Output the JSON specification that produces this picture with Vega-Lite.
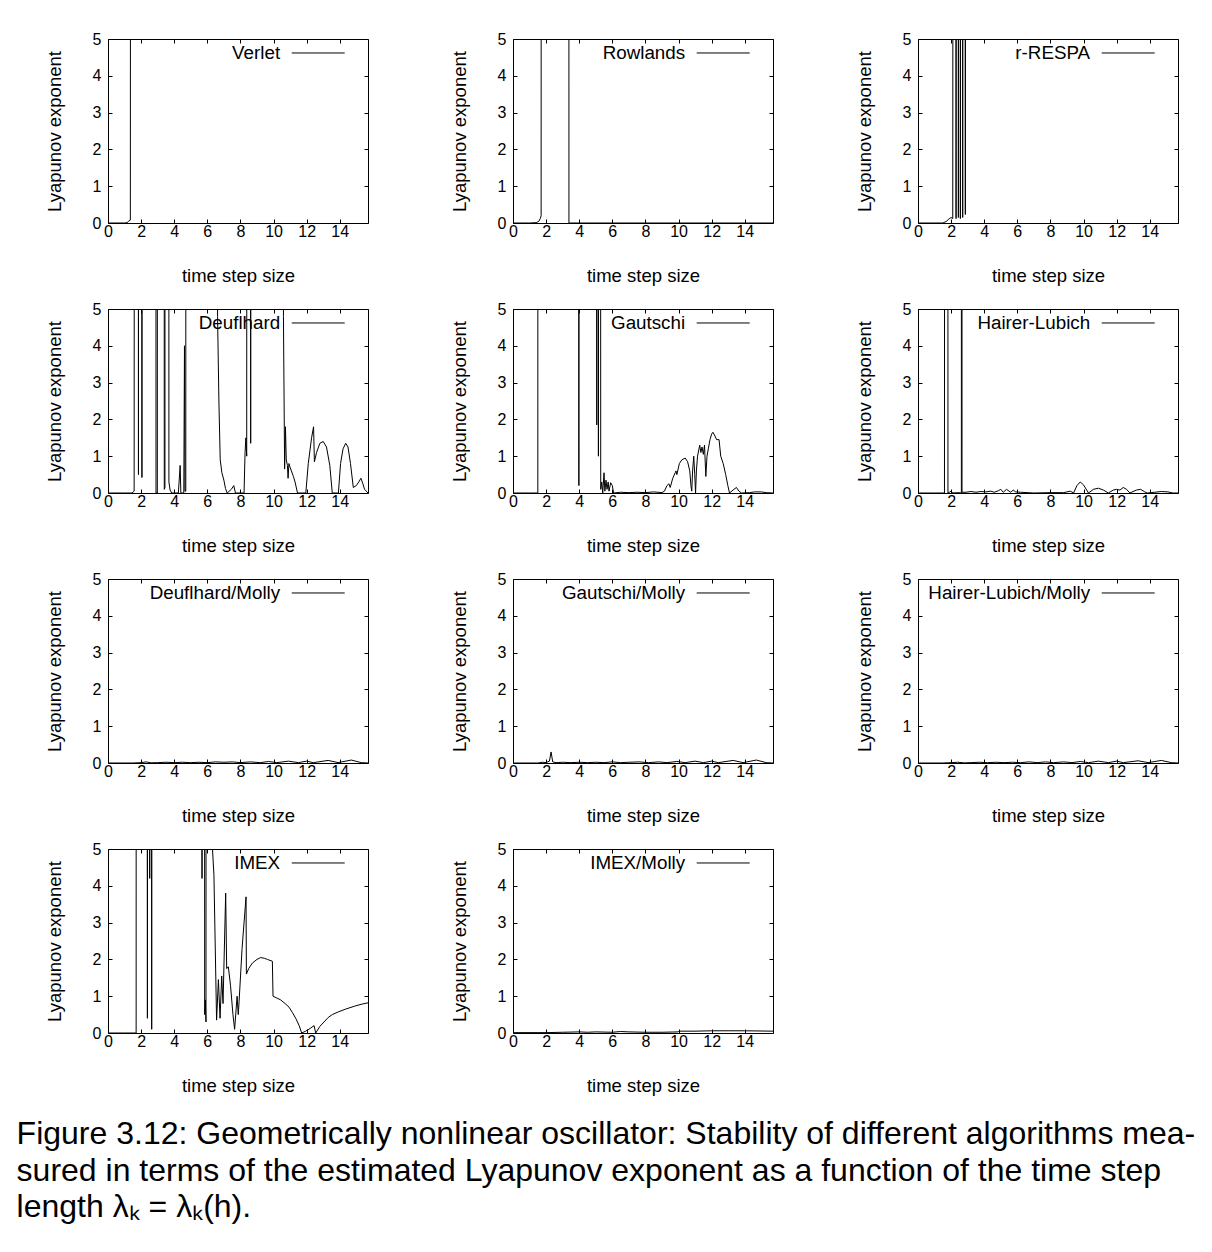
{
"$schema":"https://vega.github.io/schema/vega-lite/v6.json",
"padding":{"left":16,"top":30,"right":5,"bottom":10},
"background":"white",
"title":{"text":["Figure 3.12: Geometrically nonlinear oscillator: Stability of different algorithms mea-","sured in terms of the estimated Lyapunov exponent as a function of the time step","length λₖ = λₖ(h)."],"orient":"bottom","anchor":"start","frame":"bounds","fontSize":32,"font":"Liberation Sans","fontWeight":"normal","color":"black","lineHeight":36.5,"offset":24,"dx":-28},
"data":{"values":[
{"alg":"Verlet","h":0,"lam":0},{"alg":"Verlet","h":0.5,"lam":0},{"alg":"Verlet","h":1.0,"lam":0},{"alg":"Verlet","h":1.15,"lam":0.01},{"alg":"Verlet","h":1.25,"lam":0.05},{"alg":"Verlet","h":1.35,"lam":0.08},{"alg":"Verlet","h":1.4,"lam":60},{"alg":"Verlet","h":15.708,"lam":60},
{"alg":"Rowlands","h":0,"lam":0},{"alg":"Rowlands","h":1.0,"lam":0},{"alg":"Rowlands","h":1.4,"lam":0.01},{"alg":"Rowlands","h":1.55,"lam":0.04},{"alg":"Rowlands","h":1.65,"lam":0.12},{"alg":"Rowlands","h":1.7,"lam":0.2},{"alg":"Rowlands","h":1.72,"lam":60},{"alg":"Rowlands","h":3.36,"lam":60},{"alg":"Rowlands","h":3.38,"lam":0},{"alg":"Rowlands","h":15.708,"lam":0},
{"alg":"r-RESPA","h":0,"lam":0},{"alg":"r-RESPA","h":1.0,"lam":0},{"alg":"r-RESPA","h":1.5,"lam":0},{"alg":"r-RESPA","h":1.7,"lam":0.04},{"alg":"r-RESPA","h":1.85,"lam":0.1},{"alg":"r-RESPA","h":2.0,"lam":0.15},{"alg":"r-RESPA","h":2.1,"lam":0.12},{"alg":"r-RESPA","h":2.17,"lam":60},{"alg":"r-RESPA","h":2.28,"lam":60},{"alg":"r-RESPA","h":2.3,"lam":0.12},{"alg":"r-RESPA","h":2.32,"lam":60},{"alg":"r-RESPA","h":2.42,"lam":60},{"alg":"r-RESPA","h":2.44,"lam":0.15},{"alg":"r-RESPA","h":2.46,"lam":60},{"alg":"r-RESPA","h":2.54,"lam":60},{"alg":"r-RESPA","h":2.56,"lam":0.12},{"alg":"r-RESPA","h":2.58,"lam":60},{"alg":"r-RESPA","h":2.68,"lam":60},{"alg":"r-RESPA","h":2.7,"lam":0.15},{"alg":"r-RESPA","h":2.72,"lam":60},{"alg":"r-RESPA","h":2.84,"lam":60},{"alg":"r-RESPA","h":2.86,"lam":0.23},{"alg":"r-RESPA","h":2.88,"lam":60},{"alg":"r-RESPA","h":15.708,"lam":60},
{"alg":"Deuflhard","h":0,"lam":0},{"alg":"Deuflhard","h":1.0,"lam":0},{"alg":"Deuflhard","h":1.45,"lam":0},{"alg":"Deuflhard","h":1.58,"lam":0.05},{"alg":"Deuflhard","h":1.62,"lam":60},{"alg":"Deuflhard","h":1.82,"lam":60},{"alg":"Deuflhard","h":1.84,"lam":0.5},{"alg":"Deuflhard","h":1.86,"lam":60},{"alg":"Deuflhard","h":2.03,"lam":60},{"alg":"Deuflhard","h":2.05,"lam":0.42},{"alg":"Deuflhard","h":2.07,"lam":60},{"alg":"Deuflhard","h":2.88,"lam":60},{"alg":"Deuflhard","h":2.9,"lam":0},{"alg":"Deuflhard","h":2.98,"lam":0},{"alg":"Deuflhard","h":3.0,"lam":60},{"alg":"Deuflhard","h":3.38,"lam":60},{"alg":"Deuflhard","h":3.4,"lam":0.1},{"alg":"Deuflhard","h":3.44,"lam":0.15},{"alg":"Deuflhard","h":3.46,"lam":60},{"alg":"Deuflhard","h":3.66,"lam":60},{"alg":"Deuflhard","h":3.68,"lam":0.3},{"alg":"Deuflhard","h":3.75,"lam":0.08},{"alg":"Deuflhard","h":3.85,"lam":0},{"alg":"Deuflhard","h":4.25,"lam":0},{"alg":"Deuflhard","h":4.36,"lam":0.75},{"alg":"Deuflhard","h":4.4,"lam":0},{"alg":"Deuflhard","h":4.58,"lam":0},{"alg":"Deuflhard","h":4.62,"lam":4.0},{"alg":"Deuflhard","h":4.65,"lam":0.05},{"alg":"Deuflhard","h":4.7,"lam":0.05},{"alg":"Deuflhard","h":4.72,"lam":60},{"alg":"Deuflhard","h":6.55,"lam":60},{"alg":"Deuflhard","h":6.62,"lam":4.8},{"alg":"Deuflhard","h":6.7,"lam":2.5},{"alg":"Deuflhard","h":6.78,"lam":0.9},{"alg":"Deuflhard","h":6.88,"lam":0.55},{"alg":"Deuflhard","h":7.0,"lam":0.35},{"alg":"Deuflhard","h":7.1,"lam":0.12},{"alg":"Deuflhard","h":7.2,"lam":0},{"alg":"Deuflhard","h":7.45,"lam":0.1},{"alg":"Deuflhard","h":7.6,"lam":0.2},{"alg":"Deuflhard","h":7.7,"lam":0},{"alg":"Deuflhard","h":8.22,"lam":0},{"alg":"Deuflhard","h":8.28,"lam":1.1},{"alg":"Deuflhard","h":8.33,"lam":1.5},{"alg":"Deuflhard","h":8.38,"lam":1.0},{"alg":"Deuflhard","h":8.42,"lam":60},{"alg":"Deuflhard","h":8.6,"lam":60},{"alg":"Deuflhard","h":8.62,"lam":1.35},{"alg":"Deuflhard","h":8.65,"lam":60},{"alg":"Deuflhard","h":10.55,"lam":60},{"alg":"Deuflhard","h":10.6,"lam":4.8},{"alg":"Deuflhard","h":10.67,"lam":0.65},{"alg":"Deuflhard","h":10.72,"lam":1.8},{"alg":"Deuflhard","h":10.77,"lam":0.9},{"alg":"Deuflhard","h":10.84,"lam":0.75},{"alg":"Deuflhard","h":10.88,"lam":0.4},{"alg":"Deuflhard","h":10.93,"lam":0.8},{"alg":"Deuflhard","h":11.0,"lam":0.7},{"alg":"Deuflhard","h":11.08,"lam":0.6},{"alg":"Deuflhard","h":11.2,"lam":0.45},{"alg":"Deuflhard","h":11.3,"lam":0.3},{"alg":"Deuflhard","h":11.45,"lam":0},{"alg":"Deuflhard","h":11.95,"lam":0},{"alg":"Deuflhard","h":12.1,"lam":0.8},{"alg":"Deuflhard","h":12.3,"lam":1.5},{"alg":"Deuflhard","h":12.42,"lam":1.8},{"alg":"Deuflhard","h":12.47,"lam":0.85},{"alg":"Deuflhard","h":12.6,"lam":1.1},{"alg":"Deuflhard","h":12.8,"lam":1.35},{"alg":"Deuflhard","h":13.0,"lam":1.4},{"alg":"Deuflhard","h":13.2,"lam":1.25},{"alg":"Deuflhard","h":13.4,"lam":0.75},{"alg":"Deuflhard","h":13.55,"lam":0},{"alg":"Deuflhard","h":13.92,"lam":0},{"alg":"Deuflhard","h":14.05,"lam":0.8},{"alg":"Deuflhard","h":14.2,"lam":1.2},{"alg":"Deuflhard","h":14.36,"lam":1.35},{"alg":"Deuflhard","h":14.5,"lam":1.25},{"alg":"Deuflhard","h":14.65,"lam":0.8},{"alg":"Deuflhard","h":14.82,"lam":0.15},{"alg":"Deuflhard","h":15.0,"lam":0.2},{"alg":"Deuflhard","h":15.15,"lam":0.3},{"alg":"Deuflhard","h":15.28,"lam":0.4},{"alg":"Deuflhard","h":15.4,"lam":0.25},{"alg":"Deuflhard","h":15.5,"lam":0.1},{"alg":"Deuflhard","h":15.708,"lam":0},
{"alg":"Gautschi","h":0,"lam":0},{"alg":"Gautschi","h":1.0,"lam":0},{"alg":"Gautschi","h":1.5,"lam":0},{"alg":"Gautschi","h":1.52,"lam":60},{"alg":"Gautschi","h":3.96,"lam":60},{"alg":"Gautschi","h":3.98,"lam":0.2},{"alg":"Gautschi","h":4.0,"lam":60},{"alg":"Gautschi","h":5.04,"lam":60},{"alg":"Gautschi","h":5.06,"lam":1.85},{"alg":"Gautschi","h":5.08,"lam":60},{"alg":"Gautschi","h":5.14,"lam":60},{"alg":"Gautschi","h":5.16,"lam":1.0},{"alg":"Gautschi","h":5.18,"lam":60},{"alg":"Gautschi","h":5.26,"lam":60},{"alg":"Gautschi","h":5.3,"lam":0.1},{"alg":"Gautschi","h":5.36,"lam":0.3},{"alg":"Gautschi","h":5.42,"lam":0},{"alg":"Gautschi","h":5.5,"lam":0.55},{"alg":"Gautschi","h":5.55,"lam":0.05},{"alg":"Gautschi","h":5.62,"lam":0.35},{"alg":"Gautschi","h":5.68,"lam":0.1},{"alg":"Gautschi","h":5.75,"lam":0.3},{"alg":"Gautschi","h":5.8,"lam":0.05},{"alg":"Gautschi","h":5.9,"lam":0.28},{"alg":"Gautschi","h":6.0,"lam":0.2},{"alg":"Gautschi","h":6.08,"lam":0},{"alg":"Gautschi","h":6.5,"lam":0.02},{"alg":"Gautschi","h":7.0,"lam":0.01},{"alg":"Gautschi","h":7.5,"lam":0.02},{"alg":"Gautschi","h":8.0,"lam":0.01},{"alg":"Gautschi","h":8.5,"lam":0.03},{"alg":"Gautschi","h":9.0,"lam":0.01},{"alg":"Gautschi","h":9.15,"lam":0.05},{"alg":"Gautschi","h":9.3,"lam":0.2},{"alg":"Gautschi","h":9.42,"lam":0.25},{"alg":"Gautschi","h":9.5,"lam":0.15},{"alg":"Gautschi","h":9.65,"lam":0.4},{"alg":"Gautschi","h":9.8,"lam":0.55},{"alg":"Gautschi","h":9.85,"lam":0.6},{"alg":"Gautschi","h":9.9,"lam":0.5},{"alg":"Gautschi","h":10.05,"lam":0.8},{"alg":"Gautschi","h":10.2,"lam":0.9},{"alg":"Gautschi","h":10.4,"lam":0.95},{"alg":"Gautschi","h":10.55,"lam":0.85},{"alg":"Gautschi","h":10.68,"lam":0.6},{"alg":"Gautschi","h":10.75,"lam":0.2},{"alg":"Gautschi","h":10.8,"lam":0.05},{"alg":"Gautschi","h":10.85,"lam":0.6},{"alg":"Gautschi","h":10.92,"lam":1.0},{"alg":"Gautschi","h":10.98,"lam":0.5},{"alg":"Gautschi","h":11.03,"lam":0},{"alg":"Gautschi","h":11.08,"lam":0.6},{"alg":"Gautschi","h":11.15,"lam":1.0},{"alg":"Gautschi","h":11.28,"lam":1.3},{"alg":"Gautschi","h":11.35,"lam":1.1},{"alg":"Gautschi","h":11.42,"lam":1.25},{"alg":"Gautschi","h":11.5,"lam":1.05},{"alg":"Gautschi","h":11.57,"lam":1.3},{"alg":"Gautschi","h":11.65,"lam":0.45},{"alg":"Gautschi","h":11.72,"lam":1.0},{"alg":"Gautschi","h":11.8,"lam":1.2},{"alg":"Gautschi","h":11.9,"lam":1.45},{"alg":"Gautschi","h":12.0,"lam":1.6},{"alg":"Gautschi","h":12.08,"lam":1.65},{"alg":"Gautschi","h":12.2,"lam":1.55},{"alg":"Gautschi","h":12.3,"lam":1.45},{"alg":"Gautschi","h":12.45,"lam":1.45},{"alg":"Gautschi","h":12.55,"lam":1.0},{"alg":"Gautschi","h":12.7,"lam":0.8},{"alg":"Gautschi","h":12.85,"lam":0.5},{"alg":"Gautschi","h":12.98,"lam":0.2},{"alg":"Gautschi","h":13.08,"lam":0},{"alg":"Gautschi","h":13.35,"lam":0.1},{"alg":"Gautschi","h":13.5,"lam":0.15},{"alg":"Gautschi","h":13.65,"lam":0.05},{"alg":"Gautschi","h":13.8,"lam":0},{"alg":"Gautschi","h":14.3,"lam":0.01},{"alg":"Gautschi","h":14.6,"lam":0.03},{"alg":"Gautschi","h":15.0,"lam":0.03},{"alg":"Gautschi","h":15.3,"lam":0.01},{"alg":"Gautschi","h":15.708,"lam":0},
{"alg":"Hairer-Lubich","h":0,"lam":0},{"alg":"Hairer-Lubich","h":1.0,"lam":0},{"alg":"Hairer-Lubich","h":1.6,"lam":0},{"alg":"Hairer-Lubich","h":1.63,"lam":60},{"alg":"Hairer-Lubich","h":1.79,"lam":60},{"alg":"Hairer-Lubich","h":1.81,"lam":0},{"alg":"Hairer-Lubich","h":1.9,"lam":0.02},{"alg":"Hairer-Lubich","h":2.0,"lam":0.05},{"alg":"Hairer-Lubich","h":2.1,"lam":0},{"alg":"Hairer-Lubich","h":2.4,"lam":0.01},{"alg":"Hairer-Lubich","h":2.62,"lam":0},{"alg":"Hairer-Lubich","h":2.64,"lam":60},{"alg":"Hairer-Lubich","h":2.66,"lam":0.02},{"alg":"Hairer-Lubich","h":2.9,"lam":0.02},{"alg":"Hairer-Lubich","h":3.2,"lam":0.04},{"alg":"Hairer-Lubich","h":3.5,"lam":0.02},{"alg":"Hairer-Lubich","h":3.8,"lam":0.04},{"alg":"Hairer-Lubich","h":4.1,"lam":0.03},{"alg":"Hairer-Lubich","h":4.4,"lam":0.05},{"alg":"Hairer-Lubich","h":4.6,"lam":0.02},{"alg":"Hairer-Lubich","h":4.85,"lam":0.06},{"alg":"Hairer-Lubich","h":5.0,"lam":0.1},{"alg":"Hairer-Lubich","h":5.15,"lam":0.02},{"alg":"Hairer-Lubich","h":5.35,"lam":0.1},{"alg":"Hairer-Lubich","h":5.5,"lam":0.05},{"alg":"Hairer-Lubich","h":5.6,"lam":0.02},{"alg":"Hairer-Lubich","h":5.75,"lam":0.08},{"alg":"Hairer-Lubich","h":5.9,"lam":0.03},{"alg":"Hairer-Lubich","h":6.2,"lam":0.02},{"alg":"Hairer-Lubich","h":7.0,"lam":0},{"alg":"Hairer-Lubich","h":8.0,"lam":0.01},{"alg":"Hairer-Lubich","h":8.8,"lam":0.01},{"alg":"Hairer-Lubich","h":9.2,"lam":0.05},{"alg":"Hairer-Lubich","h":9.4,"lam":0},{"alg":"Hairer-Lubich","h":9.6,"lam":0.2},{"alg":"Hairer-Lubich","h":9.8,"lam":0.3},{"alg":"Hairer-Lubich","h":10.0,"lam":0.22},{"alg":"Hairer-Lubich","h":10.3,"lam":0},{"alg":"Hairer-Lubich","h":10.6,"lam":0.1},{"alg":"Hairer-Lubich","h":10.9,"lam":0.13},{"alg":"Hairer-Lubich","h":11.2,"lam":0.08},{"alg":"Hairer-Lubich","h":11.5,"lam":0},{"alg":"Hairer-Lubich","h":11.8,"lam":0.08},{"alg":"Hairer-Lubich","h":12.0,"lam":0.1},{"alg":"Hairer-Lubich","h":12.2,"lam":0.08},{"alg":"Hairer-Lubich","h":12.4,"lam":0.15},{"alg":"Hairer-Lubich","h":12.6,"lam":0.1},{"alg":"Hairer-Lubich","h":12.8,"lam":0},{"alg":"Hairer-Lubich","h":13.2,"lam":0.08},{"alg":"Hairer-Lubich","h":13.45,"lam":0.1},{"alg":"Hairer-Lubich","h":13.7,"lam":0.03},{"alg":"Hairer-Lubich","h":13.85,"lam":0},{"alg":"Hairer-Lubich","h":14.3,"lam":0.02},{"alg":"Hairer-Lubich","h":14.7,"lam":0.04},{"alg":"Hairer-Lubich","h":15.1,"lam":0.03},{"alg":"Hairer-Lubich","h":15.4,"lam":0},{"alg":"Hairer-Lubich","h":15.708,"lam":0},
{"alg":"Deuflhard/Molly","h":0,"lam":0},{"alg":"Deuflhard/Molly","h":1.5,"lam":0},{"alg":"Deuflhard/Molly","h":2.0,"lam":0.01},{"alg":"Deuflhard/Molly","h":2.3,"lam":0.03},{"alg":"Deuflhard/Molly","h":2.6,"lam":0.005},{"alg":"Deuflhard/Molly","h":3.0,"lam":0.01},{"alg":"Deuflhard/Molly","h":3.5,"lam":0.02},{"alg":"Deuflhard/Molly","h":4.0,"lam":0.01},{"alg":"Deuflhard/Molly","h":4.5,"lam":0.02},{"alg":"Deuflhard/Molly","h":5.0,"lam":0.01},{"alg":"Deuflhard/Molly","h":5.5,"lam":0.02},{"alg":"Deuflhard/Molly","h":6.0,"lam":0.01},{"alg":"Deuflhard/Molly","h":6.5,"lam":0.03},{"alg":"Deuflhard/Molly","h":7.0,"lam":0.02},{"alg":"Deuflhard/Molly","h":7.5,"lam":0.03},{"alg":"Deuflhard/Molly","h":8.0,"lam":0.01},{"alg":"Deuflhard/Molly","h":8.6,"lam":0.03},{"alg":"Deuflhard/Molly","h":9.2,"lam":0.01},{"alg":"Deuflhard/Molly","h":9.7,"lam":0.04},{"alg":"Deuflhard/Molly","h":10.2,"lam":0.01},{"alg":"Deuflhard/Molly","h":10.9,"lam":0.05},{"alg":"Deuflhard/Molly","h":11.5,"lam":0.01},{"alg":"Deuflhard/Molly","h":12.0,"lam":0.05},{"alg":"Deuflhard/Molly","h":12.4,"lam":0.01},{"alg":"Deuflhard/Molly","h":13.3,"lam":0.07},{"alg":"Deuflhard/Molly","h":13.9,"lam":0.01},{"alg":"Deuflhard/Molly","h":14.7,"lam":0.08},{"alg":"Deuflhard/Molly","h":15.3,"lam":0.01},{"alg":"Deuflhard/Molly","h":15.708,"lam":0},
{"alg":"Gautschi/Molly","h":0,"lam":0},{"alg":"Gautschi/Molly","h":1.5,"lam":0},{"alg":"Gautschi/Molly","h":1.8,"lam":0.02},{"alg":"Gautschi/Molly","h":2.0,"lam":0.01},{"alg":"Gautschi/Molly","h":2.2,"lam":0.05},{"alg":"Gautschi/Molly","h":2.3,"lam":0.3},{"alg":"Gautschi/Molly","h":2.4,"lam":0.03},{"alg":"Gautschi/Molly","h":2.6,"lam":0.01},{"alg":"Gautschi/Molly","h":3.0,"lam":0.02},{"alg":"Gautschi/Molly","h":3.5,"lam":0.01},{"alg":"Gautschi/Molly","h":4.0,"lam":0.02},{"alg":"Gautschi/Molly","h":4.5,"lam":0.01},{"alg":"Gautschi/Molly","h":5.0,"lam":0.02},{"alg":"Gautschi/Molly","h":5.5,"lam":0.01},{"alg":"Gautschi/Molly","h":6.0,"lam":0.03},{"alg":"Gautschi/Molly","h":6.5,"lam":0.01},{"alg":"Gautschi/Molly","h":7.0,"lam":0.02},{"alg":"Gautschi/Molly","h":7.6,"lam":0.03},{"alg":"Gautschi/Molly","h":8.2,"lam":0.01},{"alg":"Gautschi/Molly","h":8.8,"lam":0.03},{"alg":"Gautschi/Molly","h":9.3,"lam":0.01},{"alg":"Gautschi/Molly","h":9.9,"lam":0.04},{"alg":"Gautschi/Molly","h":10.4,"lam":0.01},{"alg":"Gautschi/Molly","h":11.0,"lam":0.05},{"alg":"Gautschi/Molly","h":11.5,"lam":0.01},{"alg":"Gautschi/Molly","h":12.0,"lam":0.05},{"alg":"Gautschi/Molly","h":12.4,"lam":0.01},{"alg":"Gautschi/Molly","h":13.3,"lam":0.07},{"alg":"Gautschi/Molly","h":13.9,"lam":0.01},{"alg":"Gautschi/Molly","h":14.7,"lam":0.08},{"alg":"Gautschi/Molly","h":15.3,"lam":0.01},{"alg":"Gautschi/Molly","h":15.708,"lam":0},
{"alg":"Hairer-Lubich/Molly","h":0,"lam":0},{"alg":"Hairer-Lubich/Molly","h":1.5,"lam":0},{"alg":"Hairer-Lubich/Molly","h":2.0,"lam":0.01},{"alg":"Hairer-Lubich/Molly","h":2.4,"lam":0.02},{"alg":"Hairer-Lubich/Molly","h":2.8,"lam":0.005},{"alg":"Hairer-Lubich/Molly","h":3.2,"lam":0.01},{"alg":"Hairer-Lubich/Molly","h":3.7,"lam":0.02},{"alg":"Hairer-Lubich/Molly","h":4.2,"lam":0.01},{"alg":"Hairer-Lubich/Molly","h":4.7,"lam":0.02},{"alg":"Hairer-Lubich/Molly","h":5.2,"lam":0.01},{"alg":"Hairer-Lubich/Molly","h":5.7,"lam":0.02},{"alg":"Hairer-Lubich/Molly","h":6.2,"lam":0.01},{"alg":"Hairer-Lubich/Molly","h":6.7,"lam":0.03},{"alg":"Hairer-Lubich/Molly","h":7.2,"lam":0.01},{"alg":"Hairer-Lubich/Molly","h":7.7,"lam":0.03},{"alg":"Hairer-Lubich/Molly","h":8.2,"lam":0.01},{"alg":"Hairer-Lubich/Molly","h":8.8,"lam":0.03},{"alg":"Hairer-Lubich/Molly","h":9.3,"lam":0.01},{"alg":"Hairer-Lubich/Molly","h":9.8,"lam":0.04},{"alg":"Hairer-Lubich/Molly","h":10.3,"lam":0.01},{"alg":"Hairer-Lubich/Molly","h":10.9,"lam":0.05},{"alg":"Hairer-Lubich/Molly","h":11.5,"lam":0.01},{"alg":"Hairer-Lubich/Molly","h":12.0,"lam":0.05},{"alg":"Hairer-Lubich/Molly","h":12.4,"lam":0.01},{"alg":"Hairer-Lubich/Molly","h":13.3,"lam":0.06},{"alg":"Hairer-Lubich/Molly","h":13.9,"lam":0.01},{"alg":"Hairer-Lubich/Molly","h":14.7,"lam":0.07},{"alg":"Hairer-Lubich/Molly","h":15.3,"lam":0.01},{"alg":"Hairer-Lubich/Molly","h":15.708,"lam":0},
{"alg":"IMEX","h":0,"lam":0},{"alg":"IMEX","h":1.0,"lam":0},{"alg":"IMEX","h":1.7,"lam":0},{"alg":"IMEX","h":1.72,"lam":60},{"alg":"IMEX","h":2.36,"lam":60},{"alg":"IMEX","h":2.38,"lam":0.4},{"alg":"IMEX","h":2.4,"lam":60},{"alg":"IMEX","h":2.5,"lam":60},{"alg":"IMEX","h":2.52,"lam":4.2},{"alg":"IMEX","h":2.55,"lam":60},{"alg":"IMEX","h":2.62,"lam":60},{"alg":"IMEX","h":2.64,"lam":0.1},{"alg":"IMEX","h":2.66,"lam":60},{"alg":"IMEX","h":5.66,"lam":60},{"alg":"IMEX","h":5.68,"lam":4.2},{"alg":"IMEX","h":5.72,"lam":60},{"alg":"IMEX","h":5.82,"lam":60},{"alg":"IMEX","h":5.84,"lam":0.5},{"alg":"IMEX","h":5.88,"lam":0.9},{"alg":"IMEX","h":5.92,"lam":0.3},{"alg":"IMEX","h":5.95,"lam":60},{"alg":"IMEX","h":6.26,"lam":60},{"alg":"IMEX","h":6.3,"lam":5.1},{"alg":"IMEX","h":6.4,"lam":4.3},{"alg":"IMEX","h":6.56,"lam":0.35},{"alg":"IMEX","h":6.67,"lam":1.45},{"alg":"IMEX","h":6.77,"lam":0.4},{"alg":"IMEX","h":6.87,"lam":1.55},{"alg":"IMEX","h":6.95,"lam":0.8},{"alg":"IMEX","h":7.11,"lam":3.8},{"alg":"IMEX","h":7.17,"lam":1.75},{"alg":"IMEX","h":7.27,"lam":1.8},{"alg":"IMEX","h":7.4,"lam":1.3},{"alg":"IMEX","h":7.55,"lam":0.5},{"alg":"IMEX","h":7.65,"lam":0.1},{"alg":"IMEX","h":7.8,"lam":1.0},{"alg":"IMEX","h":7.87,"lam":0.5},{"alg":"IMEX","h":7.92,"lam":0.85},{"alg":"IMEX","h":8.1,"lam":2.3},{"alg":"IMEX","h":8.34,"lam":3.7},{"alg":"IMEX","h":8.36,"lam":1.6},{"alg":"IMEX","h":8.5,"lam":1.75},{"alg":"IMEX","h":8.72,"lam":1.9},{"alg":"IMEX","h":9.0,"lam":2.0},{"alg":"IMEX","h":9.22,"lam":2.05},{"alg":"IMEX","h":9.45,"lam":2.03},{"alg":"IMEX","h":9.63,"lam":2.0},{"alg":"IMEX","h":9.93,"lam":1.95},{"alg":"IMEX","h":9.97,"lam":1.0},{"alg":"IMEX","h":10.2,"lam":0.95},{"alg":"IMEX","h":10.43,"lam":0.9},{"alg":"IMEX","h":10.7,"lam":0.8},{"alg":"IMEX","h":10.94,"lam":0.7},{"alg":"IMEX","h":11.15,"lam":0.55},{"alg":"IMEX","h":11.34,"lam":0.4},{"alg":"IMEX","h":11.55,"lam":0.2},{"alg":"IMEX","h":11.7,"lam":0},{"alg":"IMEX","h":11.94,"lam":0.05},{"alg":"IMEX","h":12.2,"lam":0.12},{"alg":"IMEX","h":12.45,"lam":0.2},{"alg":"IMEX","h":12.55,"lam":0},{"alg":"IMEX","h":12.8,"lam":0.18},{"alg":"IMEX","h":13.05,"lam":0.3},{"alg":"IMEX","h":13.3,"lam":0.42},{"alg":"IMEX","h":13.55,"lam":0.5},{"alg":"IMEX","h":13.95,"lam":0.58},{"alg":"IMEX","h":14.36,"lam":0.65},{"alg":"IMEX","h":14.9,"lam":0.73},{"alg":"IMEX","h":15.3,"lam":0.78},{"alg":"IMEX","h":15.708,"lam":0.82},
{"alg":"IMEX/Molly","h":0,"lam":0.01},{"alg":"IMEX/Molly","h":2,"lam":0.01},{"alg":"IMEX/Molly","h":3,"lam":0.02},{"alg":"IMEX/Molly","h":4,"lam":0.03},{"alg":"IMEX/Molly","h":4.5,"lam":0.02},{"alg":"IMEX/Molly","h":5,"lam":0.03},{"alg":"IMEX/Molly","h":6,"lam":0.02},{"alg":"IMEX/Molly","h":6.5,"lam":0.04},{"alg":"IMEX/Molly","h":7,"lam":0.03},{"alg":"IMEX/Molly","h":8,"lam":0.02},{"alg":"IMEX/Molly","h":9,"lam":0.02},{"alg":"IMEX/Molly","h":9.98,"lam":0.03},{"alg":"IMEX/Molly","h":10.02,"lam":0.05},{"alg":"IMEX/Molly","h":11,"lam":0.05},{"alg":"IMEX/Molly","h":12,"lam":0.06},{"alg":"IMEX/Molly","h":13,"lam":0.06},{"alg":"IMEX/Molly","h":14,"lam":0.06},{"alg":"IMEX/Molly","h":15.708,"lam":0.05}
]},
"facet":{"field":"alg","type":"nominal","sort":["Verlet","Rowlands","r-RESPA","Deuflhard","Gautschi","Hairer-Lubich","Deuflhard/Molly","Gautschi/Molly","Hairer-Lubich/Molly","IMEX","IMEX/Molly"],"header":{"title":null,"labels":false,"labelExpr":"''","labelFontSize":0,"labelPadding":0}},
"columns":3,
"bounds":"flush",
"spacing":{"row":86,"column":145},
"resolve":{"axis":{"x":"independent","y":"independent"}},
"spec":{
 "width":260,"height":184,
 "resolve":{"axis":{"x":"independent","y":"independent"}},
 "layer":[
  {"mark":{"type":"line","clip":true,"color":"black","strokeWidth":1},
   "encoding":{
    "x":{"field":"h","type":"quantitative","scale":{"domain":[0,15.708],"nice":false,"zero":false},
      "axis":{"orient":"bottom","values":[0,2,4,6,8,10,12,14],"title":"time step size","grid":false,"domain":false,"tickSize":-4,"tickColor":"black","labelPadding":4,"labelFontSize":16,"labelColor":"black","labelFont":"Liberation Sans","labelFlush":false,"labelOverlap":false,"titleFont":"Liberation Sans","titleFontSize":18.5,"titleFontWeight":"normal","titleColor":"black","titlePadding":27}},
    "y":{"field":"lam","type":"quantitative","scale":{"domain":[0,5],"nice":false},
      "axis":{"orient":"left","values":[0,1,2,3,4,5],"title":"Lyapunov exponent","grid":false,"domain":false,"tickSize":-4,"tickColor":"black","labelPadding":11,"labelFontSize":16,"labelColor":"black","labelFont":"Liberation Sans","labelFlush":false,"labelOverlap":false,"titleFont":"Liberation Sans","titleFontSize":18.5,"titleFontWeight":"normal","titleColor":"black","titlePadding":28}}
   }},
  {"transform":[{"aggregate":[{"op":"count","as":"n"}],"groupby":["alg"]}],
   "mark":{"type":"text","align":"right","baseline":"middle","fontSize":18.8,"font":"Liberation Sans","color":"black"},
   "encoding":{
    "x":{"datum":10.4,"type":"quantitative","axis":{"orient":"top","values":[0,2,4,6,8,10,12,14],"labels":false,"title":null,"grid":false,"domain":false,"tickSize":-4,"tickColor":"black"}},
    "y":{"datum":4.62,"type":"quantitative","axis":{"orient":"right","values":[0,1,2,3,4,5],"labels":false,"title":null,"grid":false,"domain":false,"tickSize":-4,"tickColor":"black"}},
    "text":{"field":"alg","type":"nominal"}
   }},
  {"transform":[{"aggregate":[{"op":"count","as":"n"}],"groupby":["alg"]}],
   "mark":{"type":"rule","color":"black","strokeWidth":1},
   "encoding":{
    "x":{"datum":11.1,"type":"quantitative","axis":null},
    "x2":{"datum":14.3},
    "y":{"datum":4.62,"type":"quantitative","axis":null}
   }}
 ]
},
"config":{"font":"Liberation Sans","view":{"stroke":"black","strokeWidth":1},"header":{"labels":false,"labelFontSize":0,"labelPadding":0,"title":null}}
}
